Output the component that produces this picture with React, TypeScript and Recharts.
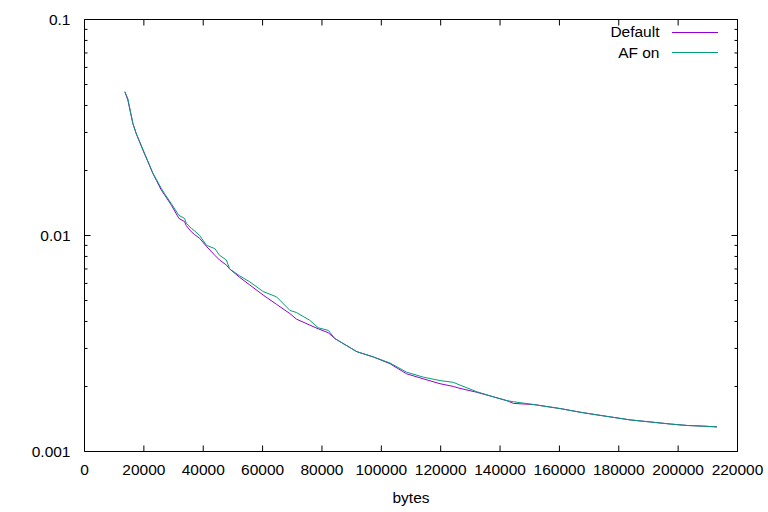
import { LineChart, Line, XAxis, YAxis, Legend } from "recharts";

// values (log-scale y)
const bytes = [
  13600, 14600, 16300, 17400, 19700, 21400, 23000, 24200, 25900, 27000, 29300,
  31800, 33700, 34300, 36000, 37100, 38800, 41100, 43900, 45500, 47800, 48900,
  52300, 55700, 60200, 64700, 69200, 71400, 75900, 78700, 82100, 84400, 91700,
  97300, 102900, 108500, 114100, 119800, 124300, 126500, 132200, 137800, 142300,
  144500, 151300, 160300, 167000, 173700, 183900, 190600, 197400, 203000, 208600,
  213100,
];
const defaultErr = [
  0.0463, 0.0424, 0.033, 0.0297, 0.0248, 0.0219, 0.0194, 0.018, 0.0162, 0.0154, 0.0138,
  0.012, 0.0116, 0.0111, 0.0104, 0.0101, 0.0097, 0.0089, 0.0081, 0.0077, 0.0073, 0.007,
  0.0064, 0.0059, 0.0053, 0.0048, 0.00435, 0.0041, 0.00385, 0.0037, 0.00355, 0.00333, 0.0029,
  0.00274, 0.00255, 0.00229, 0.00217, 0.00206, 0.002, 0.00196, 0.00188, 0.00179, 0.00172,
  0.00167, 0.00165, 0.00158, 0.00152, 0.00147, 0.0014, 0.00137, 0.00134, 0.00132, 0.00131,
  0.0013,
];
const afOnErr = [
  0.0463, 0.043, 0.033, 0.0297, 0.025, 0.022, 0.0195, 0.0182, 0.0165, 0.0156, 0.014,
  0.0124, 0.012, 0.0114, 0.0108, 0.0105, 0.01, 0.009, 0.0087, 0.0081, 0.0077, 0.007,
  0.0065, 0.0061, 0.0055, 0.0052, 0.0045, 0.0044, 0.00405, 0.00374, 0.00364, 0.00333, 0.0029,
  0.00274, 0.00257, 0.00233, 0.00221, 0.00213, 0.00209, 0.00203, 0.00189, 0.00179, 0.00172,
  0.0017, 0.00165, 0.00158, 0.00152, 0.00147, 0.0014, 0.00137, 0.00134, 0.00132, 0.00131,
  0.0013,
];
const seriesNames = ["Default", "AF on"];
const xTicks = [0, 20000, 40000, 60000, 80000, 100000, 120000, 140000, 160000, 180000, 200000, 220000];
const yMajor = [0.001, 0.01, 0.1];
const yMinor = [
  0.002, 0.003, 0.004, 0.005, 0.006, 0.007, 0.008, 0.009,
  0.02, 0.03, 0.04, 0.05, 0.06, 0.07, 0.08, 0.09,
];

const data = bytes.map((b, i) => ({ bytes: b, def: defaultErr[i], af: afOnErr[i] }));
const yTicks = [...yMajor, ...yMinor].sort((a, b) => a - b);

const FONT = "'Liberation Sans', Arial, sans-serif";
const FS = 15.5;

function BottomTick({ x, y, payload }: any) {
  return (
    <g>
      <line x1={x} y1={y} x2={x} y2={y - 6} stroke="#000" />
      <text x={x} y={y + 23} textAnchor="middle" fontSize={FS} fontFamily={FONT} fill="#000">
        {payload.value}
      </text>
    </g>
  );
}

function TopTick({ x, y }: any) {
  return <line x1={x} y1={y} x2={x} y2={y + 6} stroke="#000" />;
}

function LeftTick({ x, y, payload }: any) {
  const major = yMajor.includes(payload.value);
  return (
    <g>
      <line x1={x} y1={y} x2={x + (major ? 6 : 3)} y2={y} stroke="#000" />
      {major && (
        <text x={x - 14} y={y + 5.5} textAnchor="end" fontSize={FS} fontFamily={FONT} fill="#000">
          {String(payload.value)}
        </text>
      )}
    </g>
  );
}

function RightTick({ x, y, payload }: any) {
  const major = yMajor.includes(payload.value);
  return <line x1={x} y1={y} x2={x - (major ? 6 : 3)} y2={y} stroke="#000" />;
}

function LegendBox({ payload }: any) {
  const items = [...(payload || [])].sort(
    (a: any, b: any) => seriesNames.indexOf(a.value) - seriesNames.indexOf(b.value)
  );
  return (
    <div style={{ fontFamily: FONT, fontSize: FS, color: "#000" }}>
      {items.map((p: any) => (
        <div
          key={p.value}
          style={{ display: "flex", alignItems: "center", justifyContent: "flex-end", height: 20.5 }}
        >
          <span>{p.value}</span>
          <span style={{ display: "inline-block", width: 46, height: 1, background: p.color, marginLeft: 12.5 }} />
        </div>
      ))}
    </div>
  );
}

export default function App() {
  return (
    <div style={{ position: "absolute", left: 0, top: 0, background: "#fff" }}>
      <LineChart
        width={768}
        height={512}
        data={data}
        margin={{ top: 0.5, right: 0.5, bottom: 0.5, left: 4.5 }}
      >
        <XAxis
          dataKey="bytes"
          type="number"
          domain={[0, 220000]}
          ticks={xTicks}
          interval={0}
          height={60}
          tickSize={0}
          tickMargin={0}
          tickLine={false}
          axisLine={{ stroke: "#000" }}
          tick={<BottomTick />}
          label={{ value: "bytes", position: "insideBottom", offset: 9, fontSize: FS, fontFamily: FONT, fill: "#000" }}
        />
        <XAxis
          xAxisId="top"
          dataKey="bytes"
          type="number"
          orientation="top"
          domain={[0, 220000]}
          ticks={xTicks}
          interval={0}
          height={19}
          tickSize={0}
          tickMargin={0}
          tickLine={false}
          axisLine={{ stroke: "#000" }}
          tick={<TopTick />}
        />
        <YAxis
          scale="log"
          type="number"
          domain={[0.001, 0.1]}
          allowDataOverflow
          ticks={yTicks}
          interval={0}
          width={80}
          tickSize={0}
          tickMargin={0}
          tickLine={false}
          axisLine={{ stroke: "#000" }}
          tick={<LeftTick />}
        />
        <YAxis
          yAxisId="right"
          orientation="right"
          scale="log"
          type="number"
          domain={[0.001, 0.1]}
          allowDataOverflow
          ticks={yTicks}
          interval={0}
          width={30}
          tickSize={0}
          tickMargin={0}
          tickLine={false}
          axisLine={{ stroke: "#000" }}
          tick={<RightTick />}
        />
        <Legend
          layout="vertical"
          align="center"
          verticalAlign="middle"
          wrapperStyle={{ left: 560, top: 22, width: 158 }}
          content={<LegendBox />}
        />
        <Line
          dataKey="def"
          name="Default"
          stroke="#9400d3"
          strokeWidth={1}
          dot={false}
          type="linear"
          isAnimationActive={false}
        />
        <Line
          dataKey="af"
          name="AF on"
          stroke="#009e73"
          strokeWidth={1}
          dot={false}
          type="linear"
          isAnimationActive={false}
        />
      </LineChart>
    </div>
  );
}
